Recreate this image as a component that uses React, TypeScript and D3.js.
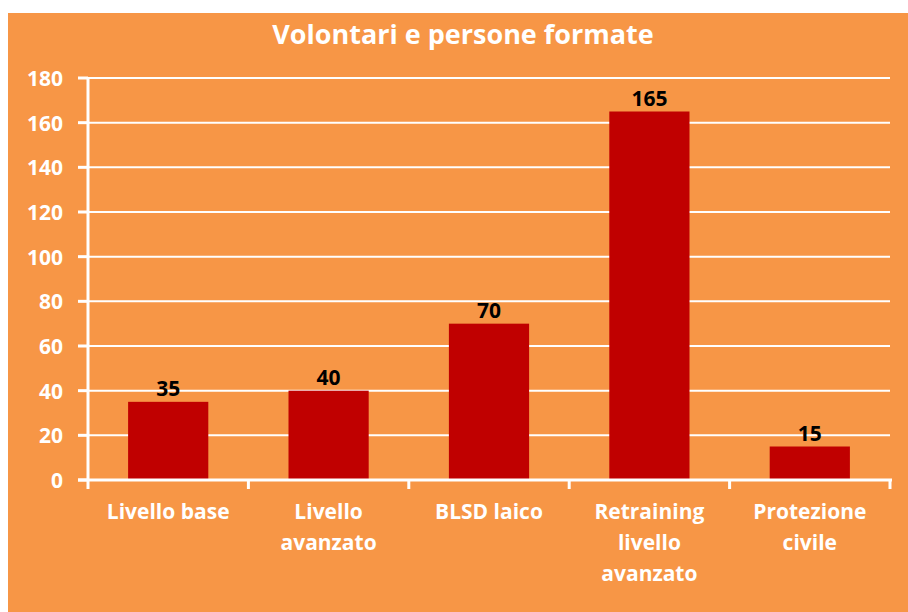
import React from "react";
import * as d3 from "d3";

const title = "Volontari e persone formate";
const categories = ["Livello base", "Livello avanzato", "BLSD laico", "Retraining livello avanzato", "Protezione civile"];
const categoryLines = [["Livello base"], ["Livello", "avanzato"], ["BLSD laico"], ["Retraining", "livello", "avanzato"], ["Protezione", "civile"]];
const values = [35, 40, 70, 165, 15];
const yTicks = [0, 20, 40, 60, 80, 100, 120, 140, 160, 180];

const W = 908, H = 612;
const FONT = "'Open Sans', Lato, sans-serif";

export default function App() {
  const x0 = 88, x1 = 890, yTop = 78, yBot = 480;
  const x = d3.scaleBand<string>().domain(categories).range([x0, x1]).paddingInner(0.5).paddingOuter(0.25);
  const xb = d3.scaleBand<string>().domain(categories).range([x0, x1]);
  const y = d3.scaleLinear().domain([0, 180]).range([yBot, yTop]);
  return (
    <svg width={W} height={H} style={{ position: "absolute", left: 0, top: 0 }}>
      <rect x={0} y={0} width={W} height={H} fill="#ffffff" />
      <rect x={8} y={13} width={W - 8} height={H - 13} fill="#F79646" />
      <text x={463} y={44} textAnchor="middle" fill="#fff" fontFamily={FONT} fontWeight="bold" fontSize={27}>{title}</text>
      {yTicks.filter(t => t > 0).map(t => (
        <line key={"g" + t} x1={x0} x2={x1} y1={y(t)} y2={y(t)} stroke="#fff" strokeWidth={2} />
      ))}
      {values.map((v, i) => (
        <rect key={"b" + i} x={x(categories[i])} y={y(v)} width={x.bandwidth()} height={yBot - y(v)} fill="#C00000" />
      ))}
      <line x1={x0} x2={x0} y1={yTop - 1} y2={yBot + 9} stroke="#fff" strokeWidth={3} />
      <line x1={x0 - 10} x2={x1 + 2} y1={yBot} y2={yBot} stroke="#fff" strokeWidth={3} />
      {yTicks.map(t => (
        <g key={"t" + t}>
          <line x1={x0 - 10} x2={x0} y1={y(t)} y2={y(t)} stroke="#fff" strokeWidth={3} />
          <text x={63} y={y(t) + 8} textAnchor="end" fill="#fff" fontFamily={FONT} fontWeight="bold" fontSize={21}>{t}</text>
        </g>
      ))}
      {categories.map((c, i) => (
        <line key={"xt" + i} x1={(xb(c) as number) + xb.bandwidth()} x2={(xb(c) as number) + xb.bandwidth()} y1={yBot} y2={yBot + 9} stroke="#fff" strokeWidth={3} />
      ))}
      {categories.map((c, i) => (
        <text key={"xl" + i} x={(xb(c) as number) + xb.bandwidth() / 2} y={519} textAnchor="middle" fill="#fff" fontFamily={FONT} fontWeight="bold" fontSize={21}>
          {categoryLines[i].map((l, j) => (
            <tspan key={j} x={(xb(c) as number) + xb.bandwidth() / 2} dy={j === 0 ? 0 : 31}>{l}</tspan>
          ))}
        </text>
      ))}
      {values.map((v, i) => (
        <text key={"v" + i} x={(x(categories[i]) as number) + x.bandwidth() / 2} y={y(v) - 6} textAnchor="middle" fill="#000" fontFamily={FONT} fontWeight="bold" fontSize={21}>{v}</text>
      ))}
    </svg>
  );
}
